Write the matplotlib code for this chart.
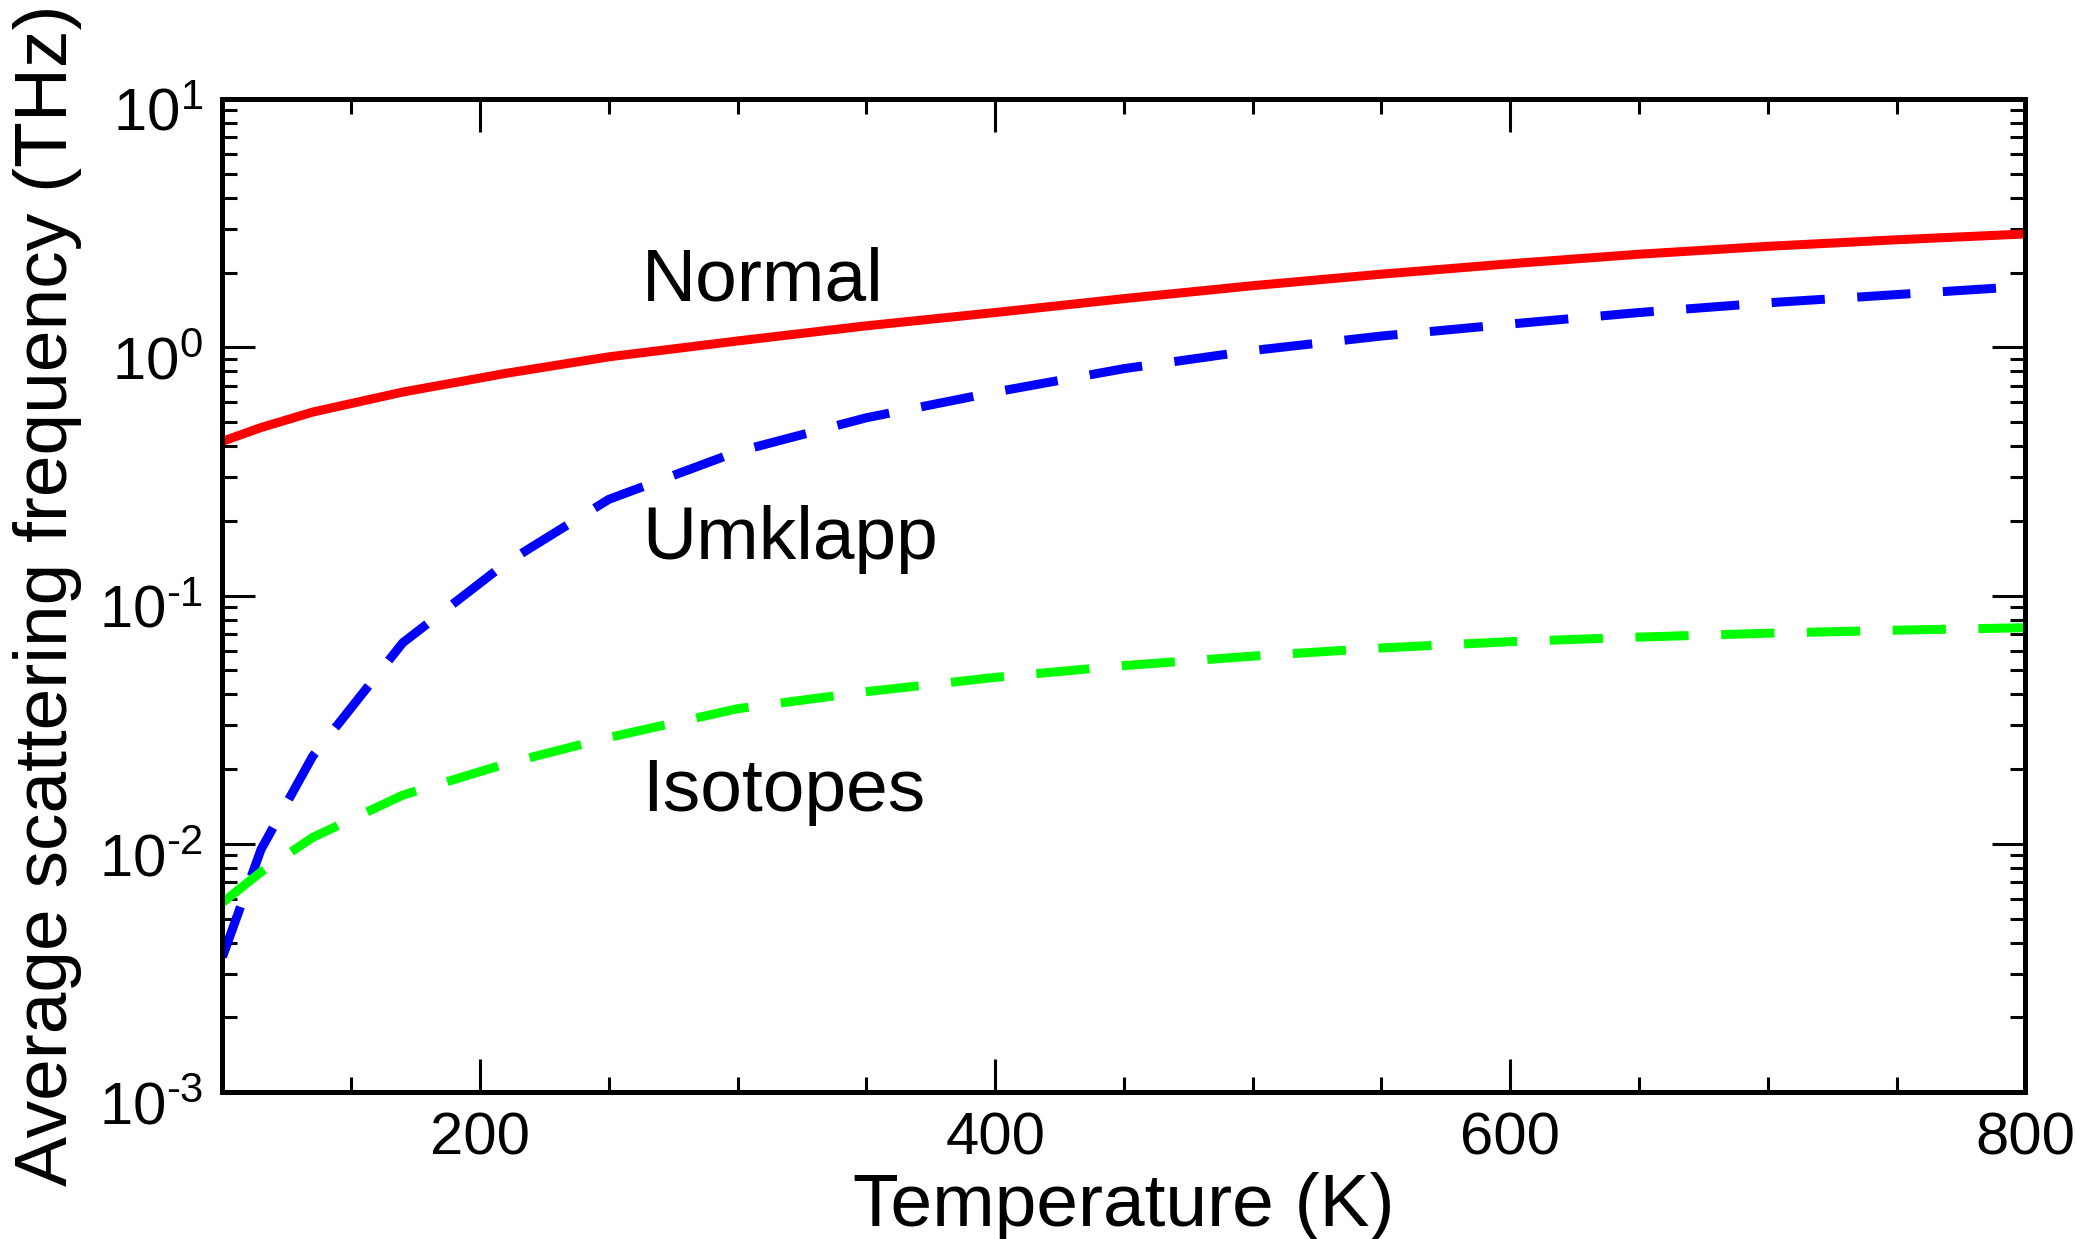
import matplotlib
matplotlib.use("Agg")
import matplotlib.pyplot as plt
import matplotlib.transforms as mtransforms
from matplotlib.ticker import FixedLocator, FixedFormatter, MultipleLocator, LogLocator, NullFormatter

plt.rcParams['font.family'] = ['Liberation Sans', 'DejaVu Sans']
plt.rcParams['mathtext.fontset'] = 'custom'
plt.rcParams['mathtext.rm'] = 'Liberation Sans'
plt.rcParams['mathtext.it'] = 'Liberation Sans:italic'
plt.rcParams['mathtext.bf'] = 'Liberation Sans:bold'

# temperature points (K)
temperature = [100, 115, 135, 170, 210, 250, 300, 350, 400, 450, 500, 550, 600, 650, 700, 750, 800]

# average scattering frequencies (THz)
normal = [0.418, 0.475, 0.548, 0.66, 0.785, 0.915, 1.06, 1.22, 1.38, 1.57, 1.77, 1.97, 2.17, 2.37, 2.55, 2.71, 2.86]
umklapp = [0.0035, 0.0095, 0.0225, 0.0645, 0.135, 0.244, 0.38, 0.52, 0.66, 0.82, 0.97, 1.11, 1.24, 1.38, 1.51, 1.63, 1.76]
isotopes = [0.0058, 0.0077, 0.0106, 0.0157, 0.021, 0.0268, 0.035, 0.041, 0.0468, 0.0522, 0.057, 0.0615, 0.0652, 0.068, 0.0705, 0.0725, 0.0742]

ytick_values = [1e-3, 1e-2, 1e-1, 1e0, 1e1]
ytick_labels = [r'$10^{\text{-3}}$', r'$10^{\text{-2}}$', r'$10^{\text{-1}}$', r'$10^{0}$', r'$10^{1}$']
xtick_values = [200, 400, 600, 800]

fig = plt.figure(figsize=(20.75, 12.39), dpi=100)
ax = fig.add_axes([0.1072, 0.1186, 0.8689, 0.8015])

lw = 6.5
ax.plot(temperature, normal, color='#ff0000', lw=lw, solid_capstyle='butt')
ax.plot(temperature, umklapp, color='#0000ff', lw=lw, dashes=(5.9, 3.6), dash_capstyle='butt')
ax.plot(temperature, isotopes, color='#00ff00', lw=lw, dashes=(5.9, 3.6), dash_capstyle='butt')

# etiquettes des courbes
ax.text(263, 1.54, 'Normal', fontsize=54, ha='left', va='baseline')
ax.text(263, 0.140, 'Umklapp', fontsize=54, ha='left', va='baseline')
ax.text(263, 0.0135, 'Isotopes', fontsize=54, ha='left', va='baseline')

ax.set_yscale('log')
ax.set_xlim(100, 800)
ax.set_ylim(1e-3, 1e1)

ax.xaxis.set_major_locator(FixedLocator(xtick_values))
ax.xaxis.set_minor_locator(MultipleLocator(50))
ax.yaxis.set_major_locator(FixedLocator(ytick_values))
ax.yaxis.set_major_formatter(FixedFormatter(ytick_labels))
ax.yaxis.set_minor_locator(LogLocator(base=10, subs=range(2, 10)))
ax.yaxis.set_minor_formatter(NullFormatter())

ax.tick_params(which='both', direction='in', top=True, right=True, width=2.2, color='black')
ax.tick_params(which='major', length=24, labelsize=43, pad=14)
ax.tick_params(which='minor', length=11)

# descendre un peu les etiquettes de l'axe y
offset = mtransforms.ScaledTranslation(0, -0.11, fig.dpi_scale_trans)
for lab in ax.get_yticklabels():
    lab.set_transform(lab.get_transform() + offset)

for s in ax.spines.values():
    s.set_linewidth(3.6)

ax.set_xlabel('Temperature (K)', fontsize=54, labelpad=4)
ax.set_ylabel('Average scattering frequency (THz)', fontsize=54, labelpad=12)

plt.savefig('out.png', dpi=100)
